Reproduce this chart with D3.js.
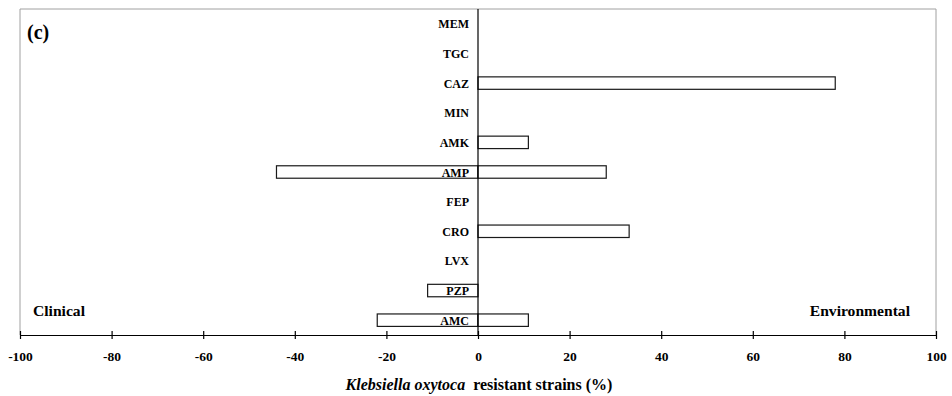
<!DOCTYPE html>
<html>
<head>
<meta charset="UTF-8">
<script src="https://d3js.org/d3.v7.min.js"></script>
</head>
<body style="margin:0; background:#fff;">
<svg id="chart" width="952" height="396" font-family="Liberation Serif" font-weight="bold">
  <!-- static labels; they also make the serif faces load before the chart is drawn -->
  <text x="27" y="39" font-family="Liberation Serif" font-weight="bold" font-size="20">(c)</text>
  <text x="33" y="315.5" font-family="Liberation Serif" font-weight="bold" font-size="15.6">Clinical</text>
  <text x="910" y="315.5" text-anchor="end" font-family="Liberation Serif" font-weight="bold" font-size="15.6">Environmental</text>
  <text x="479" y="390" text-anchor="middle" font-family="Liberation Serif" font-weight="bold" font-size="16"><tspan font-style="italic">Klebsiella oxytoca</tspan>&#160; resistant strains (%)</text>
</svg>
<script>
// antibiotics, top to bottom
const drugs = ['MEM', 'TGC', 'CAZ', 'MIN', 'AMK', 'AMP', 'FEP', 'CRO', 'LVX', 'PZP', 'AMC'];
// % resistant, clinical strains (drawn to the left)
const clinical = [0, 0, 0, 0, 0, 44, 0, 0, 0, 11, 22];
// % resistant, environmental strains (drawn to the right)
const environmental = [0, 0, 78, 0, 11, 28, 0, 33, 0, 0, 11];
const ticks = [-100, -80, -60, -40, -20, 0, 20, 40, 60, 80, 100];

const W = 952, H = 396;
const m = { top: 9, right: 16, bottom: 61, left: 20 };
const FONT = 'Liberation Serif';

const svg = d3.select('#chart');

const x = d3.scaleLinear().domain([-100, 100]).range([m.left, W - m.right]);
const y = d3.scaleBand().domain(drugs).range([m.top, H - m.bottom]).paddingInner(0.58).paddingOuter(0.29);

// grey frame (left, top, right)
svg.insert('path', 'text')
    .attr('d', `M${x(-100)},${H - m.bottom} V${m.top} H${x(100)} V${H - m.bottom}`)
    .attr('fill', 'none').attr('stroke', '#a0a0a0').attr('stroke-width', 1);

// bars
const rows = drugs.map((d, i) => ({ drug: d, cli: clinical[i], env: environmental[i] }));
const bars = svg.append('g');
rows.filter(r => r.cli > 0).forEach(r => {
    bars.append('rect')
        .attr('x', x(-r.cli)).attr('y', y(r.drug))
        .attr('width', x(0) - x(-r.cli)).attr('height', y.bandwidth())
        .attr('fill', '#fff').attr('stroke', '#1a1a1a').attr('stroke-width', 1.2);
});
rows.filter(r => r.env > 0).forEach(r => {
    bars.append('rect')
        .attr('x', x(0)).attr('y', y(r.drug))
        .attr('width', x(r.env) - x(0)).attr('height', y.bandwidth())
        .attr('fill', '#fff').attr('stroke', '#1a1a1a').attr('stroke-width', 1.2);
});

// zero line
svg.append('line')
    .attr('x1', x(0)).attr('x2', x(0))
    .attr('y1', m.top).attr('y2', H - m.bottom)
    .attr('stroke', '#000').attr('stroke-width', 1.2);

// category labels next to the zero line
svg.append('g').selectAll('text').data(drugs).join('text')
    .attr('x', x(0) - 9)
    .attr('y', d => y(d) + y.bandwidth() / 2 + 4.5)
    .attr('text-anchor', 'end')
    .attr('font-family', FONT).attr('font-weight', 'bold').attr('font-size', 12)
    .text(d => d);

// x axis (plain hyphen for negatives, like the original)
const axis = d3.axisBottom(x).tickValues(ticks).tickSize(4).tickSizeOuter(0).tickPadding(12)
    .tickFormat(d => String(d));
const gx = svg.append('g').attr('transform', `translate(0,${H - m.bottom})`).call(axis);
gx.attr('font-family', FONT).attr('font-size', 13.5).attr('font-weight', 'bold');
gx.select('.domain').attr('stroke', '#000').attr('stroke-width', 1.2);
gx.selectAll('.tick line').attr('y1', -4).attr('stroke', '#000').attr('stroke-width', 1.2);
gx.selectAll('.tick text').attr('fill', '#000');
</script>
</body>
</html>
